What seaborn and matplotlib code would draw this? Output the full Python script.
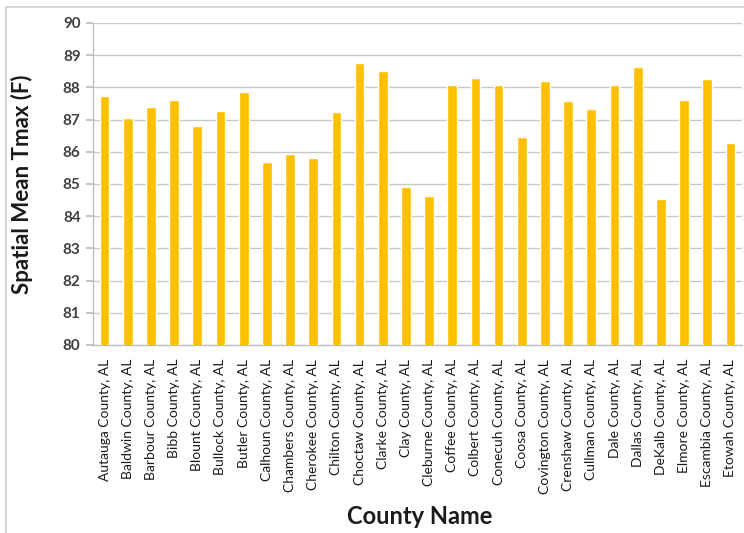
import matplotlib
matplotlib.use("Agg")
import matplotlib.pyplot as plt
import seaborn as sns
import pandas as pd
from matplotlib.patches import Rectangle

counties = ["Autauga County, AL", "Baldwin County, AL", "Barbour County, AL", "Bibb County, AL",
            "Blount County, AL", "Bullock County, AL", "Butler County, AL", "Calhoun County, AL",
            "Chambers County, AL", "Cherokee County, AL", "Chilton County, AL", "Choctaw County, AL",
            "Clarke County, AL", "Clay County, AL", "Cleburne County, AL", "Coffee County, AL",
            "Colbert County, AL", "Conecuh County, AL", "Coosa County, AL", "Covington County, AL",
            "Crenshaw County, AL", "Cullman County, AL", "Dale County, AL", "Dallas County, AL",
            "DeKalb County, AL", "Elmore County, AL", "Escambia County, AL", "Etowah County, AL"]
tmax = [87.72, 87.04, 87.40, 87.62, 86.81, 87.26, 87.85, 85.68, 85.94, 85.81, 87.24, 88.77,
        88.52, 84.92, 84.62, 88.06, 88.29, 88.08, 86.47, 88.19, 87.59, 87.34, 88.08, 88.63,
        84.52, 87.60, 88.25, 86.27]
yticks = list(range(80, 91))

sns.set_theme(style="white")
plt.rcParams['font.family'] = ['Lato', 'DejaVu Sans']

df = pd.DataFrame({"county": counties, "tmax": tmax})

fig = plt.figure(figsize=(7.44, 5.33), dpi=100)
fig.patches.append(Rectangle((6/744, -0.1), 1.2, 1 - 7/533 + 0.1, transform=fig.transFigure,
                             fill=False, edgecolor="#D0D0D0", linewidth=1.2, zorder=0))
ax = fig.add_axes([93/744, 1 - 345/533, 649/744, 322/533])

sns.barplot(data=df, x="county", y="tmax", color="#FFC000", width=0.42, ax=ax,
            saturation=1, zorder=3)

ax.set_ylim(80, 90)
ax.set_yticks(yticks)
ax.set_xlim(-0.5, len(counties) - 0.5)
ax.grid(axis="y", color="#C8C8C8", linewidth=1.0, zorder=0)
ax.set_axisbelow(True)
for s in ["top", "right"]:
    ax.spines[s].set_visible(False)
for s in ["left", "bottom"]:
    ax.spines[s].set_color("#BFBFBF")
    ax.spines[s].set_linewidth(1.0)

ax.tick_params(axis="y", which="both", left=True, length=5, color="#BFBFBF",
               labelsize=11, labelcolor="#404040", pad=4)
for lbl in ax.get_yticklabels():
    lbl.set_fontweight("bold")
ax.tick_params(axis="x", bottom=False, labelsize=10, labelcolor="#1a1a1a", pad=4)
ax.set_xticks(range(len(counties)))
ax.set_xticklabels(counties, rotation=90)

ax.set_ylabel("Spatial Mean Tmax (F)", fontsize=16, fontweight="bold", color="#1a1a1a")
ax.set_xlabel("County Name", fontsize=17, fontweight="bold", color="#1a1a1a")
ax.yaxis.set_label_coords(-0.0925, 0.5)
ax.xaxis.set_label_coords(0.504, -0.498)

fig.savefig("out.png", dpi=100)
